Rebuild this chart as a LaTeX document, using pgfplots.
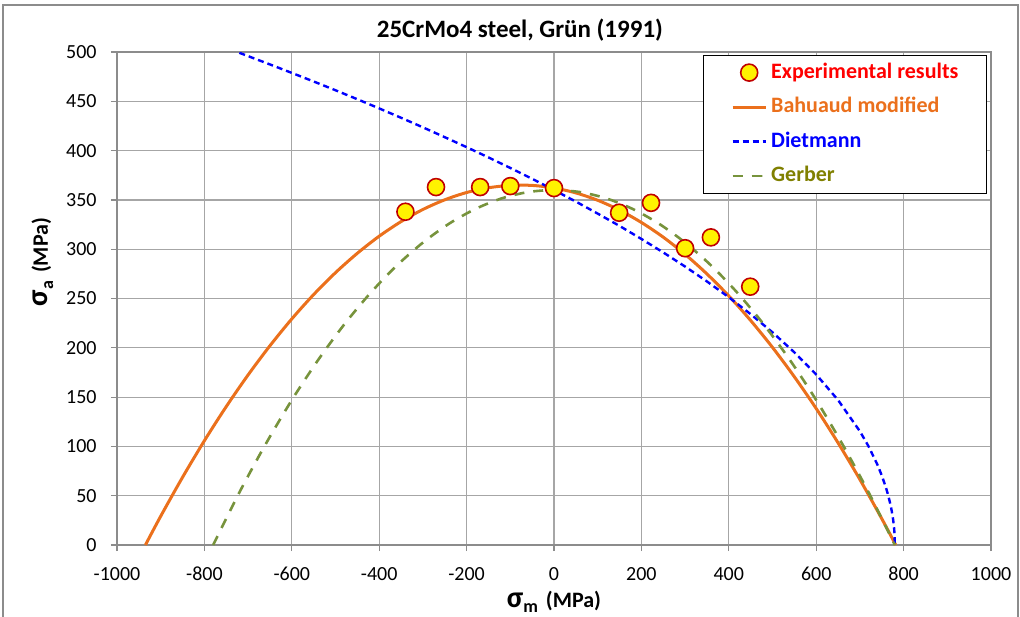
\documentclass[border=0pt]{standalone}
\usepackage{fontspec}
\setmainfont{Carlito}
\usepackage{pgfplots}
\pgfplotsset{compat=1.18}
\definecolor{BahOrange}{HTML}{EB701C}
\definecolor{GerbGreen}{HTML}{77933C}
\definecolor{GerbText}{HTML}{808000}
\definecolor{MarkRed}{HTML}{C00000}
\definecolor{AxisGray}{HTML}{8C8C8C}
\definecolor{GridGray}{HTML}{A6A6A6}
\definecolor{FrameGray}{HTML}{8C8C8C}

\begin{document}
\begin{tikzpicture}
\begin{axis}[
  scale only axis,
  width=437pt, height=246.5pt,
  xmin=-1000, xmax=1000, ymin=0, ymax=500,
  xtick={-1000,-800,...,1000},
  xticklabels={-1000,-800,-600,-400,-200,0,200,400,600,800,1000},
  ytick={0,50,...,500},
  yticklabels={0,50,100,150,200,250,300,350,400,450,500},
  tick label style={font=\fontsize{10}{12}\selectfont},
  xticklabel style={anchor=base, inner sep=0pt, yshift=-14.5pt},
  yticklabel style={anchor=east, inner sep=0pt, xshift=-7pt},
  axis line style={draw=AxisGray, line width=0.6pt},
  grid=major,
  grid style={GridGray, line width=0.6pt},
  tick style={AxisGray, line width=0.6pt},
  tick align=outside, major tick length=3pt,
  xtick pos=bottom, ytick pos=left,
  legend style={at={(0.9954,0.9939)}, anchor=north east, draw=black,
    line width=0.6pt, font=\bfseries\fontsize{11}{13}\selectfont,
    inner xsep=14pt, inner ysep=3.25pt, row sep=6.75pt, column sep=2pt,
    cells={anchor=west},
    nodes={inner sep=0pt, text height=8pt, text depth=2.5pt}},
  legend image code/.code={\draw[mark repeat=2, mark phase=2, #1]
    plot coordinates {(0pt,0pt) (8.25pt,0pt) (16.5pt,0pt)};},
]
% experimental points
\addplot[only marks, mark=*, mark size=4.25pt,
  mark options={fill=yellow, draw=MarkRed, line width=0.8pt}] coordinates {
  (-340,338) (-270,363) (-169,363) (-100,364) (0,362)
  (149,337) (222,347) (300,301) (359,312) (449,262)
};
\addlegendentry{\textcolor{red}{Experimental results}}

% Bahuaud modified
\addplot[BahOrange, line width=1.5pt, smooth] coordinates {
  (-935,0) (-900,29.2) (-850,68.7) (-800,105.8) (-750,140.4) (-700,172.5)
  (-650,202.1) (-600,229.3) (-550,254.0) (-500,276.2) (-450,295.9)
  (-400,313.2) (-350,328.0) (-300,340.3) (-250,350.1) (-200,357.5)
  (-150,362.3) (-100,364.7) (-50,364.7) (0,362.1) (50,357.1) (100,349.6)
  (150,339.6) (200,327.1) (250,312.2) (300,294.8) (350,274.9) (400,252.6)
  (450,227.7) (500,200.4) (550,170.6) (600,138.4) (650,103.6) (700,66.4)
  (750,26.7) (782,0)
};
\addlegendentry{\textcolor{BahOrange}{Bahuaud modified}}

% Dietmann
\addplot[blue, line width=1.2pt, dash pattern=on 3pt off 2pt] coordinates {
  (-720,499.2) (-650,487.4) (-600,478.8) (-550,470.1) (-500,461.2) (-450,452.1)
  (-400,442.8) (-350,433.3) (-300,423.6) (-250,413.6) (-200,403.5)
  (-150,393.1) (-100,382.4) (-50,371.4) (0,360) (50,348.3) (100,336.1)
  (150,323.6) (200,310.4) (250,296.7) (300,282.4) (350,267.3) (400,251.3)
  (450,234.1) (500,215.7) (550,195.4) (600,172.9) (650,147.0) (700,115.3)
  (720,99.9) (740,81.5) (750,70.6) (760,57.6) (765,49.9) (770,40.8)
  (772,36.5) (775,28.8) (776,25.8) (778,18.2) (779,12.9) (780,0)
};
\addlegendentry{\textcolor{blue}{Dietmann}}

% Gerber
\addplot[GerbGreen, line width=1.3pt, dash pattern=on 5pt off 4.5pt, smooth] coordinates {
  (-780,0) (-720,53.3) (-660,102.2) (-600,147.0) (-540,187.5) (-480,223.7)
  (-420,255.6) (-360,283.3) (-300,306.7) (-240,325.9) (-180,340.8)
  (-120,351.5) (-60,357.9) (0,360) (60,357.9) (120,351.5) (180,340.8)
  (240,325.9) (300,306.7) (360,283.3) (420,255.6) (480,223.7) (540,187.5)
  (600,147.0) (660,102.2) (720,53.3) (780,0)
};
\addlegendentry{\textcolor{GerbText}{Gerber}}

\coordinate (sw) at (rel axis cs:0,0);
\coordinate (ne) at (rel axis cs:1,1);
\coordinate (tt) at (rel axis cs:0.461,1);
\coordinate (xl) at (rel axis cs:0.5,0);
\coordinate (yl) at (rel axis cs:0,0.574);
\end{axis}

\node[anchor=base, font=\bfseries\fontsize{12.5}{15}\selectfont]
  at ([yshift=7.5pt]tt) {25CrMo4 steel, Grün (1991)};
\node[anchor=base, font=\bfseries\fontsize{11}{13}\selectfont]
  at ([yshift=-31pt]xl)
  {{\fontsize{15}{15}\selectfont σ}\raisebox{-2.5pt}{\fontsize{9}{9}\selectfont m}\hspace{4pt}(MPa)};
\node[anchor=base, rotate=90, font=\bfseries\fontsize{11}{13}\selectfont]
  at ([xshift=-34.5pt]yl)
  {{\fontsize{15}{15}\selectfont σ}\raisebox{-2.5pt}{\fontsize{9}{9}\selectfont a}\hspace{4pt}(MPa)};

\draw[FrameGray, line width=0.6pt]
  ([xshift=-57pt,yshift=-40pt]sw) rectangle ([xshift=13.5pt,yshift=23.5pt]ne);
\pgfresetboundingbox
\path[use as bounding box]
  ([xshift=-58.5pt,yshift=-35.5pt]sw) rectangle ([xshift=14.5pt,yshift=26pt]ne);
\end{tikzpicture}
\end{document}
